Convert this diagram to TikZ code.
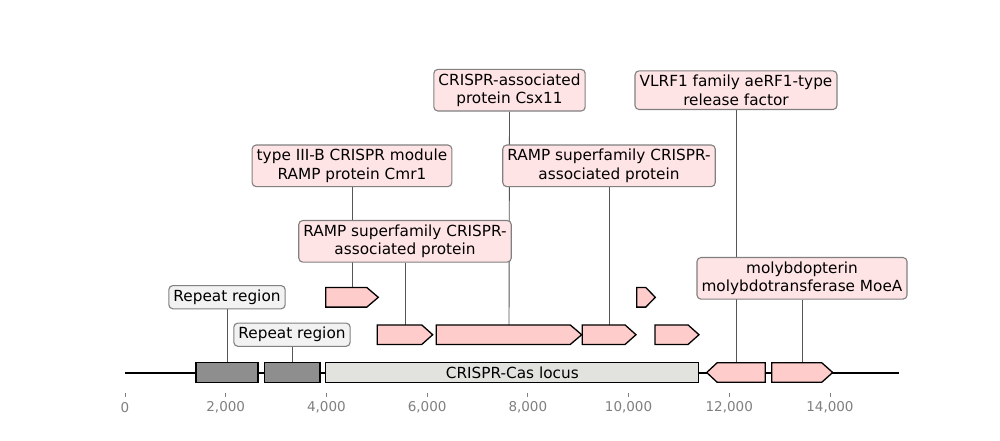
\documentclass[tikz,border=0pt]{standalone}
\usepackage{fontspec}
\setmainfont{DejaVu Sans}
\definecolor{genefill}{HTML}{FFCCCC}
\definecolor{labfill}{HTML}{FFE4E6}
\definecolor{replabfill}{HTML}{F2F2F2}
\definecolor{repfill}{HTML}{8E8E8E}
\definecolor{locusfill}{HTML}{E2E2DE}
\definecolor{boxedge}{HTML}{808080}
\definecolor{conn}{HTML}{555555}
\definecolor{axisgray}{HTML}{808080}
\pgfdeclarelayer{bglayer}
\pgfdeclarelayer{featlayer}
\pgfsetlayers{bglayer,featlayer,main}
\tikzset{
  lab/.style={draw=boxedge, line width=1.1pt, fill=labfill, rounded corners=4pt,
    inner xsep=4.6pt, inner ysep=4.2pt, align=center,
    font=\fontsize{15.3}{18.4}\selectfont},
  replab/.style={lab, fill=replabfill},
  feat/.style={draw=black, line width=1.3pt, line join=miter},
  genebox/.style={feat, fill=genefill},
  connector/.style={draw=conn, line width=0.9pt},
  ticklab/.style={text=axisgray, font=\fontsize{13.5}{16}\selectfont, anchor=center},
  tickmark/.style={draw=axisgray, line width=0.9pt}
}
\newcommand{\fgene}[4]{% x1, x2, head, ymid
  \path[genebox] (#1,#4-9.8) -- (#2-#3,#4-9.8) -- (#2,#4) -- (#2-#3,#4+9.8) -- (#1,#4+9.8) -- cycle;}
\newcommand{\rgene}[4]{% xtip, x2, head, ymid
  \path[genebox] (#1,#4) -- (#1+#3,#4-9.8) -- (#2,#4-9.8) -- (#2,#4+9.8) -- (#1+#3,#4+9.8) -- cycle;}
\begin{document}
\begin{tikzpicture}[x=1pt,y=-1pt]
\useasboundingbox (0,0) rectangle (1000,440);
\begin{pgfonlayer}{bglayer}
\fill[white] (0,0) rectangle (1000,440);
\end{pgfonlayer}

% feature anchor coordinates (tops of features)
\coordinate (rep1top) at (227,362.7);
\coordinate (rep2top) at (292,362.7);
\coordinate (g1top) at (405,324.9);
\coordinate (g2top) at (509,324.9);
\coordinate (g3top) at (609,324.9);
\coordinate (cmrtop) at (352,287.4);
\coordinate (vltop) at (736,362.7);
\coordinate (moetop) at (802,362.7);

% labels
\node[replab] (lrep1) at (227,297.2) {Repeat region};
\node[replab] (lrep2) at (292,334.7) {Repeat region};
\node[lab] (lramp1) at (405,241.3) {RAMP superfamily CRISPR-\\associated protein};
\node[lab] (lcmr) at (352,165.8) {type III-B CRISPR module\\RAMP protein Cmr1};
\node[lab] (lcsx) at (509.5,90.2) {CRISPR-associated\\protein Csx11};
\node[lab] (lramp2) at (609,165.8) {RAMP superfamily CRISPR-\\associated protein};
\node[lab] (lvl) at (736,90.2) {VLRF1 family aeRF1-type\\release factor};
\node[lab] (lmoe) at (802,278.3) {molybdopterin\\molybdotransferase MoeA};

\begin{pgfonlayer}{bglayer}
% baseline
\draw[line width=2pt] (125,372.5) -- (899,372.5);
% connectors
\path[connector] (lrep1.south) -- (rep1top);
\path[connector] (lrep2.south) -- (rep2top);
\path[connector] (lramp1.south) -- (g1top);
\path[connector] (lcmr.south) -- (cmrtop);
\path[connector] (lcsx.south) -- (g2top);
\path[connector] (lramp2.south) -- (g3top);
\path[connector] (lvl.south) -- (vltop);
\path[connector] (lmoe.south) -- (moetop);
\end{pgfonlayer}

\begin{pgfonlayer}{featlayer}
% repeat boxes and locus
\path[feat, fill=repfill] (196,362.7) rectangle (258,382.3);
\path[feat, fill=repfill] (264.3,362.7) rectangle (320,382.3);
\path[feat, fill=locusfill] (325.7,362.7) rectangle (698.8,382.3);
% genes on baseline
\rgene{706.7}{765.3}{10.5}{372.5}
\fgene{771.7}{832.7}{11}{372.5}
% row 2
\fgene{377.3}{432.7}{11}{334.7}
\fgene{436.2}{581.7}{11.5}{334.7}
\fgene{582.3}{636}{11}{334.7}
\fgene{655}{699}{11}{334.7}
% row 3
\fgene{325.7}{378.3}{11.5}{297.3}
\fgene{636.7}{655.3}{9.5}{297.3}
\end{pgfonlayer}

\node[font=\fontsize{15.3}{18.4}\selectfont] (locus) at (512.3,372.5) {CRISPR-Cas locus};

% axis
\foreach \v/\t in {0/0,2000/{2,000},4000/{4,000},6000/{6,000},8000/{8,000},10000/{10,000},12000/{12,000},14000/{14,000}}{
  \path[tickmark] (125+\v*0.050357,392.8) -- (125+\v*0.050357,397.3);
  \node[ticklab] (t\v) at (125+\v*0.050357,407.5) {\t};
}
\end{tikzpicture}
\end{document}
